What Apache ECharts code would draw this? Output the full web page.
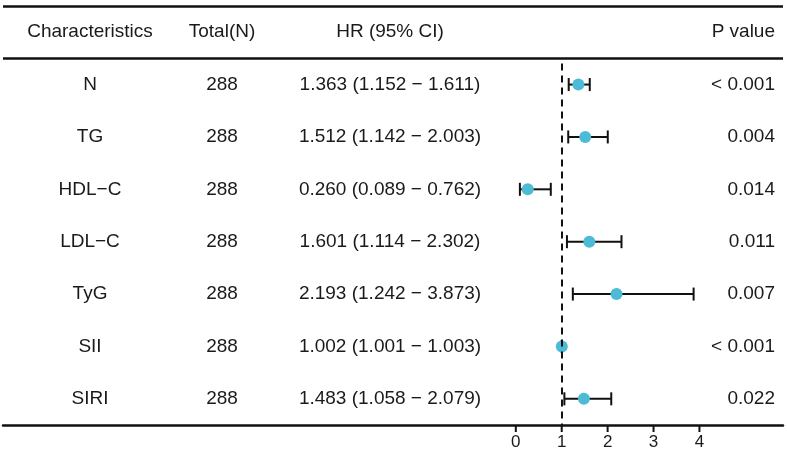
<!DOCTYPE html>
<html>
<head>
<meta charset="utf-8">
<script src="https://cdn.jsdelivr.net/npm/echarts@6/dist/echarts.min.js"></script>
<style>
  html, body { margin: 0; padding: 0; background: #fff; }
  #chart-container { width: 787px; height: 449px; }
</style>
</head>
<body>
<div id="chart-container"></div>
<script>
var headers = ['Characteristics', 'Total(N)', 'HR (95% CI)', 'P value'];
var names = ['N', 'TG', 'HDL\u2212C', 'LDL\u2212C', 'TyG', 'SII', 'SIRI'];
var totals = [288, 288, 288, 288, 288, 288, 288];
var hr = [1.363, 1.512, 0.260, 1.601, 2.193, 1.002, 1.483];
var lower = [1.152, 1.142, 0.089, 1.114, 1.242, 1.001, 1.058];
var upper = [1.611, 2.003, 0.762, 2.302, 3.873, 1.003, 2.079];
var pvalues = ['< 0.001', '0.004', '0.014', '0.011', '0.007', '< 0.001', '0.022'];
var xTicks = [0, 1, 2, 3, 4];

var dom = document.getElementById('chart-container');
var myChart = echarts.init(dom, null, { renderer: 'canvas' });

var textColor = '#1a1a1a';
var font = '"Liberation Sans", Arial, sans-serif';
// column anchors in pixels: [x, align]
var cols = [[90, 'center'], [222, 'center'], [390, 'center'], [775, 'right']];

var hrText = hr.map(function (v, i) {
  return v.toFixed(3) + ' (' + lower[i].toFixed(3) + ' \u2212 ' + upper[i].toFixed(3) + ')';
});

var tableRows = [headers].concat(names.map(function (n, i) {
  return [n, String(totals[i]), hrText[i], pvalues[i]];
}));

var option = {
  animation: false,
  grid: { left: 3, right: 4, top: 6, bottom: 24, outerBoundsMode: 'none' },
  xAxis: {
    type: 'value',
    min: -11.17,
    max: 5.82,
    splitLine: { show: false },
    axisLine: { show: true, onZero: false, lineStyle: { color: '#111', width: 2.5 } },
    axisTick: { show: false },
    axisLabel: { customValues: xTicks, margin: 9, fontSize: 17, color: textColor, fontFamily: 'Liberation Sans' }
  },
  yAxis: {
    type: 'value',
    inverse: true,
    min: -1.5,
    max: 6.5,
    show: false
  },
  series: [
    {
      type: 'custom',
      name: 'table',
      silent: true,
      data: tableRows.map(function (r, i) { return [0, i - 1]; }),
      renderItem: function (params, api) {
        var y = api.coord([0, api.value(1)])[1];
        var row = tableRows[params.dataIndex];
        return {
          type: 'group',
          children: row.map(function (t, c) {
            return {
              type: 'text',
              style: {
                x: cols[c][0], y: y, text: t,
                textAlign: cols[c][1], textVerticalAlign: 'middle',
                fill: textColor, font: '19px ' + font
              }
            };
          })
        };
      }
    },
    {
      type: 'custom',
      name: 'ticks',
      silent: true,
      clip: false,
      z: 8,
      data: xTicks.map(function (v) { return [v, 6.5]; }),
      renderItem: function (params, api) {
        var p = api.coord([api.value(0), api.value(1)]);
        return {
          type: 'line',
          shape: { x1: p[0], y1: p[1], x2: p[0], y2: p[1] + 7 },
          style: { stroke: '#111', lineWidth: 2 }
        };
      }
    },
    {
      type: 'custom',
      name: 'CI',
      silent: true,
      data: names.map(function (n, i) { return [lower[i], upper[i], i]; }),
      encode: { x: [0, 1], y: 2 },
      renderItem: function (params, api) {
        var a = api.coord([api.value(0), api.value(2)]);
        var b = api.coord([api.value(1), api.value(2)]);
        var h = 6.5;
        var st = { stroke: '#111', lineWidth: 2 };
        return {
          type: 'group',
          children: [
            { type: 'line', shape: { x1: a[0], y1: a[1], x2: b[0], y2: b[1] }, style: st },
            { type: 'line', shape: { x1: a[0], y1: a[1] - h, x2: a[0], y2: a[1] + h }, style: st },
            { type: 'line', shape: { x1: b[0], y1: b[1] - h, x2: b[0], y2: b[1] + h }, style: st }
          ]
        };
      }
    },
    {
      type: 'scatter',
      name: 'HR',
      symbol: 'circle',
      symbolSize: 12,
      itemStyle: { color: '#4DBBD5', opacity: 1 },
      z: 5,
      data: hr.map(function (v, i) { return [v, i]; }),
      markLine: {
        silent: true,
        symbol: ['none', 'none'],
        label: { show: false },
        lineStyle: { color: '#111', width: 2.5, type: 'solid' },
        data: [
          { yAxis: -1.5 },
          { yAxis: -0.5 }
        ]
      }
    },
    {
      type: 'scatter',
      name: 'ref',
      z: 10,
      data: [],
      markLine: {
        silent: true,
        z: 10,
        symbol: ['none', 'none'],
        label: { show: false },
        lineStyle: { type: [7, 5], width: 2, color: '#111' },
        data: [
          [{ coord: [1, -0.4] }, { coord: [1, 6.5] }]
        ]
      }
    }
  ]
};

myChart.setOption(option);
window.addEventListener('resize', myChart.resize);
</script>
</body>
</html>
